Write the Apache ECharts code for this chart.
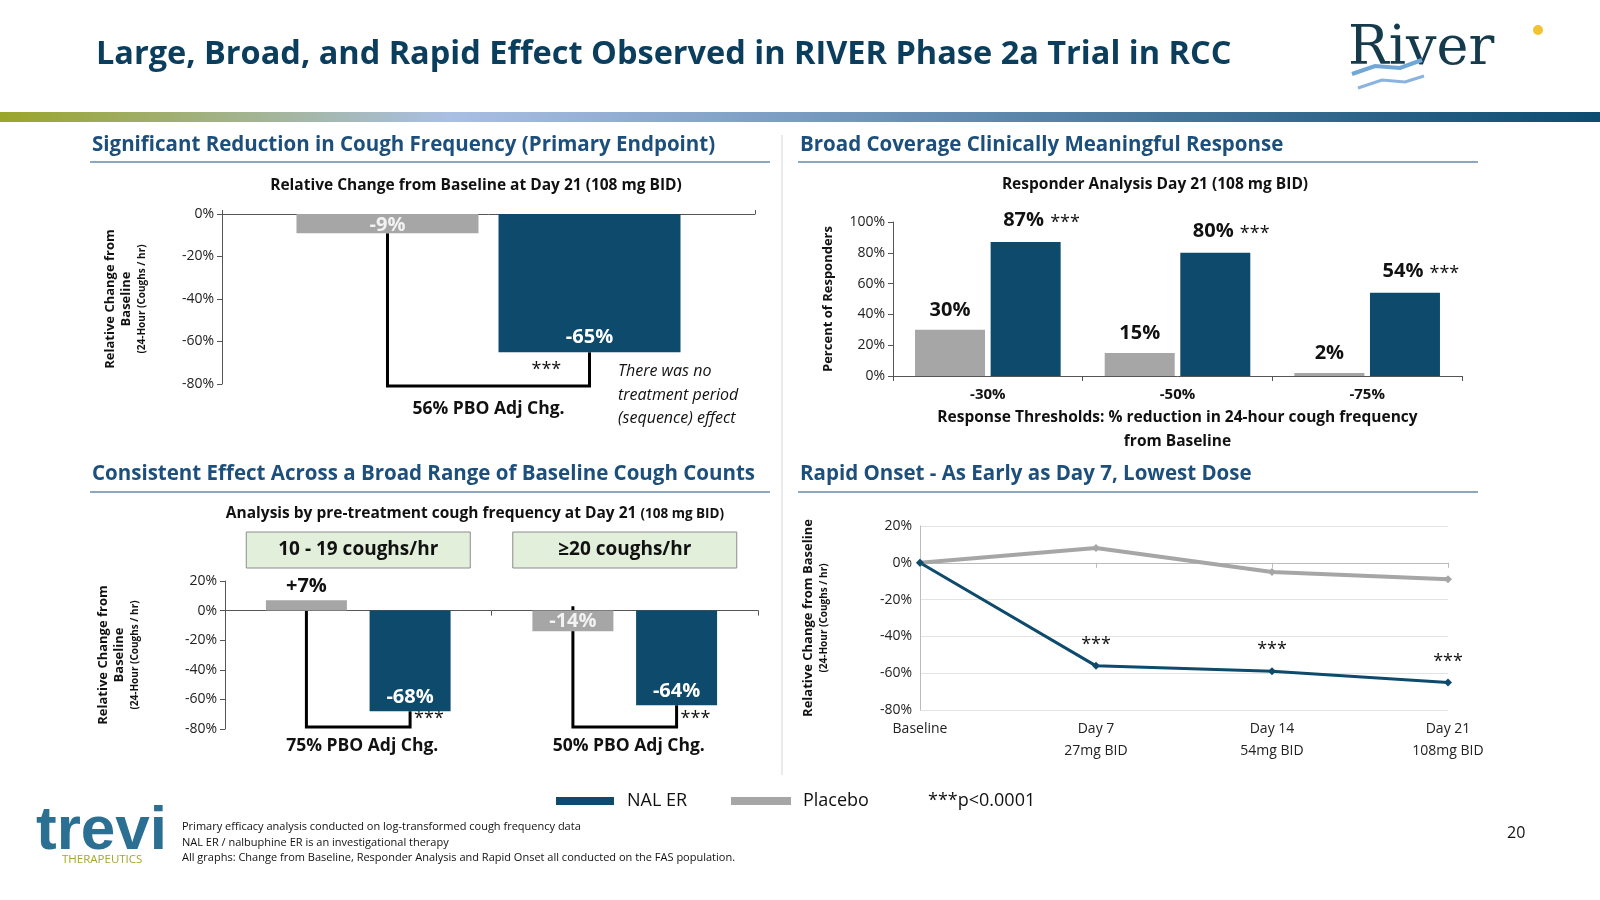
<!DOCTYPE html>
<html><head><meta charset="utf-8">
<script src="https://cdn.jsdelivr.net/npm/echarts@6/dist/echarts.min.js"></script>
<style>html,body{margin:0;padding:0;background:#fff}#c{width:1600px;height:900px}</style>
</head><body><div id="c"></div>
<script>
// ---- data ----
const cat1 = ['Day 21'];
const pbo1 = [-9];
const nal1 = [-65];
const thresholds = ['-30%', '-50%', '-75%'];
const pbo2 = [30, 15, 2];
const nal2 = [87, 80, 54];
const groups3 = ['10 - 19 coughs/hr', '≥20 coughs/hr'];
const pbo3 = [7, -14];
const nal3 = [-68, -64];
const adj3 = ['75% PBO Adj Chg.', '50% PBO Adj Chg.'];
const days4 = ['Baseline', 'Day 7', 'Day 14', 'Day 21'];
const doses4 = ['', '27mg BID', '54mg BID', '108mg BID'];
const nal4 = [0, -56, -59, -65];
const pbo4 = [0, 8, -5, -9];
const sig4 = ['', '***', '***', '***'];

const NAL = '#0d4a6b', PBO = '#a6a6a6', HEAD = '#1d4f7c', TITLE = '#0b3d5c';
const F = '"Open Sans", "Noto Sans", sans-serif';
const chart = echarts.init(document.getElementById('c'));
const pct = v => v + '%';
const yName = {
  rich: {
    a: {fontFamily: F, fontWeight: 'bold', fontSize: 13, color: '#111', lineHeight: 16, align: 'center'},
    b: {fontFamily: F, fontWeight: 'bold', fontSize: 10, color: '#111', lineHeight: 16, align: 'center'}
  }
};
const axLbl = {fontFamily: F, fontSize: 14, color: '#222', formatter: pct};
const axLine = {show: true, lineStyle: {color: '#555', width: 1}};

chart.setOption({
  animation: false,
  grid: [
    {left: 222, width: 533, top: 214, height: 170},
    {left: 893, width: 569, top: 222, height: 154},
    {left: 225, width: 533, top: 581, height: 148},
    {left: 920, width: 528, top: 526, height: 184}
  ],
  xAxis: [
    {gridIndex: 0, type: 'category', data: cat1, axisLabel: {show: false}, axisLine: axLine, axisTick: {show: true, inside: true, length: 4, lineStyle: {color: '#555'}}},
    {gridIndex: 1, type: 'category', data: thresholds, axisLine: axLine, axisTick: {show: true, length: 5, lineStyle: {color: '#555'}},
      axisLabel: {fontFamily: F, fontSize: 15, fontWeight: 'bold', color: '#111', margin: 11},
      name: 'Response Thresholds: % reduction in 24-hour cough frequency\nfrom Baseline', nameLocation: 'middle', nameGap: 30,
      nameTextStyle: {fontFamily: F, fontSize: 15.5, fontWeight: 'bold', color: '#111', lineHeight: 24, verticalAlign: 'top'}},
    {gridIndex: 2, type: 'category', data: groups3, axisLabel: {show: false}, axisLine: axLine, axisTick: {show: true, length: 5, lineStyle: {color: '#555'}}},
    {gridIndex: 3, type: 'category', data: days4, boundaryGap: false, axisLine: {show: true, lineStyle: {color: '#bbb'}},
      axisTick: {show: true, length: 5, lineStyle: {color: '#bbb'}},
      axisLabel: {fontFamily: F, fontSize: 14, color: '#222', lineHeight: 22, margin: 8,
        formatter: (v, i) => v + '\n' + doses4[i]}}
  ],
  yAxis: [
    {gridIndex: 0, type: 'value', min: -80, max: 0, interval: 20, splitLine: {show: false}, axisLine: axLine,
      axisTick: {show: true, length: 5, lineStyle: {color: '#555'}}, axisLabel: axLbl,
      name: '{a|Relative Change from}\n{a|Baseline}\n{b|(24-Hour (Coughs / hr)}', nameLocation: 'middle', nameRotate: 90, nameGap: 72, nameTextStyle: yName},
    {gridIndex: 1, type: 'value', min: 0, max: 100, interval: 20, splitLine: {show: false}, axisLine: axLine,
      axisTick: {show: true, length: 5, lineStyle: {color: '#555'}}, axisLabel: axLbl,
      name: 'Percent of Responders', nameLocation: 'middle', nameRotate: 90, nameGap: 58,
      nameTextStyle: {fontFamily: F, fontWeight: 'bold', fontSize: 13, color: '#111'}},
    {gridIndex: 2, type: 'value', min: -80, max: 20, interval: 20, splitLine: {show: false}, axisLine: axLine,
      axisTick: {show: true, length: 5, lineStyle: {color: '#555'}}, axisLabel: axLbl,
      name: '{a|Relative Change from}\n{a|Baseline}\n{b|(24-Hour (Coughs / hr)}', nameLocation: 'middle', nameRotate: 90, nameGap: 82, nameTextStyle: yName},
    {gridIndex: 3, type: 'value', min: -80, max: 20, interval: 20, splitLine: {show: true, lineStyle: {color: '#e3e3e3'}},
      axisLine: {show: true, lineStyle: {color: '#bbb'}}, axisTick: {show: false}, axisLabel: axLbl,
      name: '{a|Relative Change from Baseline}\n{b|(24-Hour (Coughs / hr)}', nameLocation: 'middle', nameRotate: 90, nameGap: 88, nameTextStyle: yName}
  ],
  series: [
    {type: 'bar', xAxisIndex: 0, yAxisIndex: 0, data: pbo1, barWidth: 182, barGap: '11%', itemStyle: {color: PBO},
      label: {show: true, position: 'insideTop', distance: 1, formatter: p => p.value + '%', fontFamily: F, fontSize: 20, fontWeight: 'bold', color: '#f2f2f2'}},
    {type: 'bar', xAxisIndex: 0, yAxisIndex: 0, data: nal1, barWidth: 182, itemStyle: {color: NAL},
      label: {show: true, position: 'insideBottom', distance: 5, formatter: p => p.value + '%', fontFamily: F, fontSize: 20, fontWeight: 'bold', color: '#fff'}},

    {type: 'bar', xAxisIndex: 1, yAxisIndex: 1, data: pbo2, barWidth: 70, barGap: '8%', itemStyle: {color: PBO},
      label: {show: true, position: 'top', distance: 10, formatter: p => p.value + '%', fontFamily: F, fontSize: 20, fontWeight: 'bold', color: '#111'}},
    {type: 'bar', xAxisIndex: 1, yAxisIndex: 1, data: nal2, barWidth: 70, itemStyle: {color: NAL},
      label: {show: true, position: 'top', distance: 10, formatter: p => '{p|}{a|' + p.value + '%}{s|***}',
        rich: {p: {width: 34}, a: {fontFamily: F, fontSize: 20, fontWeight: 'bold', color: '#111'},
          s: {width: 34, fontFamily: F, fontSize: 18, color: '#111', padding: [6, 0, 0, 4]}}}},

    {type: 'bar', xAxisIndex: 2, yAxisIndex: 2, data: pbo3.map(v => v < 0 ? {value: v, label: {position: 'insideTop', color: '#f2f2f2', distance: 1}} : v),
      barWidth: 81, barGap: '28%', itemStyle: {color: PBO},
      label: {show: true, formatter: p => (p.value > 0 ? '+' : '') + p.value + '%', fontFamily: F, fontSize: 20, fontWeight: 'bold',
        position: 'top', distance: 4, color: '#111'}},
    {type: 'bar', xAxisIndex: 2, yAxisIndex: 2, data: nal3, barWidth: 81, itemStyle: {color: NAL},
      label: {show: true, position: 'insideBottom', distance: 4, formatter: p => p.value + '%', fontFamily: F, fontSize: 20, fontWeight: 'bold', color: '#fff'}},

    {type: 'line', xAxisIndex: 3, yAxisIndex: 3, data: pbo4, symbol: 'diamond', symbolSize: 8, lineStyle: {color: PBO, width: 4}, itemStyle: {color: PBO}},
    {type: 'line', xAxisIndex: 3, yAxisIndex: 3, data: nal4, symbol: 'diamond', symbolSize: 8, lineStyle: {color: NAL, width: 3}, itemStyle: {color: NAL},
      label: {show: true, position: 'top', distance: 8, formatter: p => sig4[p.dataIndex], fontFamily: F, fontSize: 18, color: '#111'}}
  ]
});

function lay(si, i) { return chart.getModel().getSeriesByIndex(si).getData().getItemLayout(i); }
function py(gi, v) { return chart.convertToPixel({yAxisIndex: gi}, v); }

const g = [];
const T = (x, y, text, o) => g.push(Object.assign({type: 'text', x, y, style: Object.assign({text, fontFamily: F, fill: '#111', fontSize: 14}, o || {})}));
const L = (pts, color, w) => g.push({type: 'polyline', shape: {points: pts}, style: {stroke: color, lineWidth: w, fill: null}});

// header
T(96, 55, 'Large, Broad, and Rapid Effect Observed in RIVER Phase 2a Trial in RCC', {fontSize: 32.5, fontWeight: 'bold', fill: TITLE, verticalAlign: 'middle'});
g.push({type: 'rect', shape: {x: 0, y: 112, width: 1600, height: 10}, style: {fill: new echarts.graphic.LinearGradient(0, 0, 1, 0, [
  {offset: 0, color: '#9aa52a'}, {offset: 0.28, color: '#a9bfe3'}, {offset: 1, color: '#0b4c70'}])}});
// River logo
T(1348, 50, 'River', {fontFamily: '"DejaVu Serif", "Liberation Serif", serif', fontSize: 54, fill: '#153a4c', verticalAlign: 'middle'});
L([[1352, 74], [1375, 66], [1400, 68], [1422, 60]], '#6fa8d8', 4);
L([[1358, 88], [1382, 80], [1405, 82], [1424, 76]], '#8ab3e0', 3);
g.push({type: 'circle', shape: {cx: 1538, cy: 30, r: 5}, style: {fill: '#f1c232'}});

// section heads
const heads = [[92, 145, 'Significant Reduction in Cough Frequency (Primary Endpoint)', 90, 770, 162],
  [800, 145, 'Broad Coverage Clinically Meaningful Response', 798, 1478, 162],
  [92, 474, 'Consistent Effect Across a Broad Range of Baseline Cough Counts', 90, 770, 492],
  [800, 474, 'Rapid Onset - As Early as Day 7, Lowest Dose', 798, 1478, 492]];
heads.forEach(h => { T(h[0], h[1], h[2], {fontSize: 20.5, fontWeight: 'bold', fill: HEAD, verticalAlign: 'middle'});
  L([[h[3], h[5]], [h[4], h[5]]], HEAD, 1); });
L([[782, 135], [782, 775]], '#d5d5d5', 1);

// chart titles
T(476, 186, 'Relative Change from Baseline at Day 21 (108 mg BID)', {fontSize: 15.5, fontWeight: 'bold', align: 'center', verticalAlign: 'middle'});
T(1155, 185, 'Responder Analysis Day 21 (108 mg BID)', {fontSize: 15.5, fontWeight: 'bold', align: 'center', verticalAlign: 'middle'});
g.push({type: 'text', x: 475, y: 514, style: {text: '{a|Analysis by pre-treatment cough frequency at Day 21 }{b|(108 mg BID)}', align: 'center', verticalAlign: 'middle',
  rich: {a: {fontFamily: F, fontSize: 15.5, fontWeight: 'bold', fill: '#111'}, b: {fontFamily: F, fontSize: 13.5, fontWeight: 'bold', fill: '#111'}}}});

// chart1 bracket
{
  const a = lay(0, 0), b = lay(1, 0);
  const ax = a.x + a.width / 2, bx = b.x + b.width / 2, yb = py(0, -80) + 2;
  L([[ax, py(0, pbo1[0])], [ax, yb], [bx, yb], [bx, py(0, nal1[0])]], '#000', 3);
  T(bx - 58, yb - 16, '***', {fontSize: 18, verticalAlign: 'middle'});
  T((ax + bx) / 2, yb + 23, '56% PBO Adj Chg.', {fontSize: 17.5, fontWeight: 'bold', align: 'center', verticalAlign: 'middle'});
  T(618, 360, 'There was no\ntreatment period\n(sequence) effect', {fontSize: 16, fontStyle: 'italic', lineHeight: 23.5, verticalAlign: 'top'});
}
// chart3 boxes + brackets
groups3.forEach((name, i) => {
  const a = lay(4, i), b = lay(5, i);
  const ax = a.x + a.width / 2, bx = b.x + b.width / 2, yb = py(2, -80) - 2;
  const cx = (a.x + b.x + b.width) / 2;
  g.push({type: 'rect', shape: {x: cx - 112, y: 532, width: 224, height: 36}, style: {fill: '#e2efda', stroke: '#8c8c8c', lineWidth: 1}});
  T(cx, 550, name, {fontSize: 19, fontWeight: 'bold', align: 'center', verticalAlign: 'middle'});
  L([[ax, py(2, i === 0 ? 0 : 3)], [ax, yb], [bx, yb], [bx, py(2, nal3[i])]], '#000', 3);
  T(bx + 4, yb - 8, '***', {fontSize: 18, verticalAlign: 'middle'});
  T(cx + 4, yb + 19, adj3[i], {fontSize: 17.5, fontWeight: 'bold', align: 'center', verticalAlign: 'middle'});
});

// legend
g.push({type: 'rect', shape: {x: 556, y: 797, width: 58, height: 8}, style: {fill: NAL}});
T(627, 801, 'NAL ER', {fontSize: 18, verticalAlign: 'middle'});
g.push({type: 'rect', shape: {x: 731, y: 797, width: 60, height: 8}, style: {fill: PBO}});
T(803, 801, 'Placebo', {fontSize: 18, verticalAlign: 'middle'});
T(928, 801, '***p<0.0001', {fontSize: 18, verticalAlign: 'middle'});

// footer
T(36, 832, 'trevi', {fontSize: 62, fontWeight: 'bold', fill: '#2b6f92', verticalAlign: 'middle', fontFamily: '"Liberation Sans", sans-serif'});
T(62, 860, 'THERAPEUTICS', {fontSize: 11.5, fill: '#a3a82a', verticalAlign: 'middle'});
T(182, 827, 'Primary efficacy analysis conducted on log-transformed cough frequency data', {fontSize: 11, verticalAlign: 'middle'});
T(182, 843, 'NAL ER / nalbuphine ER is an investigational therapy', {fontSize: 11, verticalAlign: 'middle'});
T(182, 858, 'All graphs: Change from Baseline, Responder Analysis and Rapid Onset all conducted on the FAS population.', {fontSize: 11, verticalAlign: 'middle'});
T(1507, 833, '20', {fontSize: 16, verticalAlign: 'middle'});

chart.setOption({graphic: g});
</script></body></html>
